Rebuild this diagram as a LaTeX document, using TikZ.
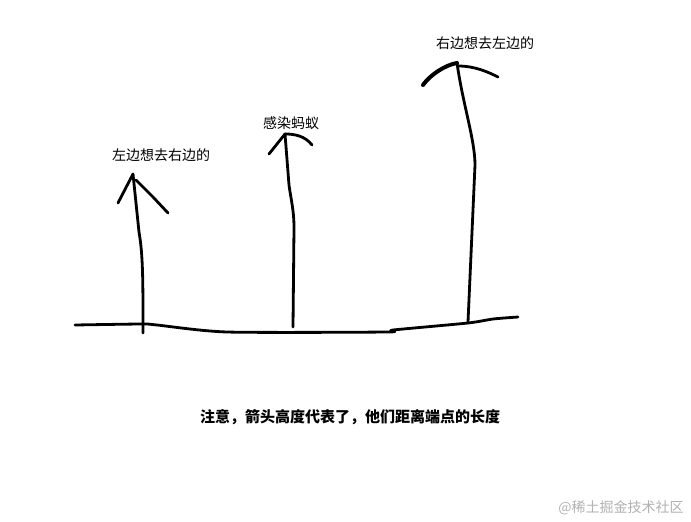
\documentclass[tikz,border=0pt]{standalone}
\usepackage{fontspec}
\setmainfont{Noto Sans CJK SC}

\begin{document}
\begin{tikzpicture}[x=1pt,y=-1pt,line cap=round,line join=round]
	\tikzstyle{pen}=[line width=2.8pt,black];
	\tikzstyle{zi}=[inner sep=0pt,font=\fontsize{14}{16}\selectfont];
	\useasboundingbox[fill=white] (0,0) rectangle (691,522);

	% ground
	\draw[pen] plot[smooth,tension=.4] coordinates {(75,325) (142,324) (157,325) (227,332) (387,332) (393,330) (468,323) (493,319) (518,317)};

	% arrow 1
	\coordinate (tipa) at (133,174);
	\draw[pen] (143,333) .. controls (143,280) and (143,255) .. (139,232) -- (tipa);
	\draw[pen] (tipa) -- (118,203);
	\draw[pen] (136,180) -- (153,197) -- (168,213);
	\node[zi] (lefta) at (161,155) {左边想去右边的};

	% arrow 2
	\coordinate (tipb) at (285,134);
	\draw[pen] (293,327) -- (294,228) .. controls (294,210) and (291,200) .. (289,185) -- (tipb);
	\draw[pen] (tipb) -- (269,154);
	\draw[pen] (tipb) .. controls (295,134) and (305,136) .. (312,145);
	\node[zi] (ant) at (291,123) {感染蚂蚁};

	% arrow 3
	\coordinate (tipc) at (457,63);
	\draw[pen] (468,322) -- (475,165) .. controls (475,140) and (463,105) .. (tipc);
	\draw[pen,line width=4pt] (tipc) .. controls (445,65) and (430,75) .. (423,85);
	\draw[pen] (458,66) .. controls (475,66) and (488,72) .. (498,77);
	\node[zi] (rightc) at (485,43) {右边想去左边的};

	% note
	\node[zi,font=\fontsize{15}{18}\selectfont\bfseries] (note) at (350,417) {注意，箭头高度代表了，他们距离端点的长度};
	\node[zi,text=black!30,font=\fontsize{14}{16}\selectfont] (mark) at (621,508) {@稀土掘金技术社区};
\end{tikzpicture}
\end{document}
